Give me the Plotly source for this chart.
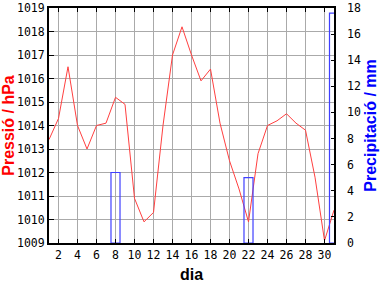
import plotly.graph_objects as go

days = list(range(1, 32))
pressure = [1013.4, 1014.3, 1016.5, 1014.0, 1013.0, 1014.0, 1014.1, 1015.2, 1014.9,
            1010.9, 1009.9, 1010.3, 1014.0, 1017.0, 1018.2, 1017.0, 1015.9, 1016.4,
            1014.1, 1012.5, 1011.3, 1009.9, 1012.8, 1014.0, 1014.2, 1014.5, 1014.1,
            1013.8, 1011.8, 1009.1, 1010.4]
rain_days = [8, 22, 31]
rain_mm = [5.4, 5.0, 17.6]
x_ticks = list(range(2, 31, 2))

fig = go.Figure()
fig.add_trace(go.Bar(x=rain_days, y=rain_mm, yaxis="y2", width=0.95,
                     marker=dict(color="rgba(0,0,0,0)", line=dict(color="#4040ff", width=1.2)),
                     showlegend=False))
fig.add_trace(go.Scatter(x=days, y=pressure, mode="lines",
                         line=dict(color="#ff4040", width=1), showlegend=False))

tickfont = dict(family="DejaVu Sans Mono", size=11.5, color="black")
titlefont = "Liberation Sans"
fig.update_layout(
    width=384, height=288,
    margin=dict(l=49, r=50, t=1, b=45),
    paper_bgcolor="white", plot_bgcolor="white",
    xaxis=dict(range=[1, 31], tickvals=x_ticks, ticks="inside", ticklen=4, tickcolor="black",
               showline=True, linecolor="black", linewidth=2, mirror="ticks",
               showgrid=True, gridcolor="#aaaaaa", gridwidth=1, zeroline=False,
               tickfont=tickfont, ticklabeloverflow="allow",
               title=dict(text="<b>dia</b>", font=dict(family=titlefont, size=16, color="black"), standoff=8)),
    yaxis=dict(range=[1009, 1019], dtick=1, ticks="inside", ticklen=5, tickcolor="black",
               showline=True, linecolor="black", linewidth=2, mirror=True,
               showgrid=True, gridcolor="#aaaaaa", gridwidth=1, zeroline=False,
               tickfont=tickfont, ticklabeloverflow="allow",
               title=dict(text="<b>Pressió / hPa</b>", font=dict(family=titlefont, size=16, color="#ff0000"), standoff=2)),
    yaxis2=dict(range=[0, 18], dtick=2, overlaying="y", side="right",
                ticks="inside", ticklen=3, tickcolor="black", ticklabelstandoff=12,
                showline=False, showgrid=False, zeroline=False,
                tickfont=tickfont, ticklabeloverflow="allow",
                title=dict(text="<b>Precipitació / mm</b>", font=dict(family=titlefont, size=16, color="#0000ff"), standoff=4)),
)
fig.write_html("out.html")
